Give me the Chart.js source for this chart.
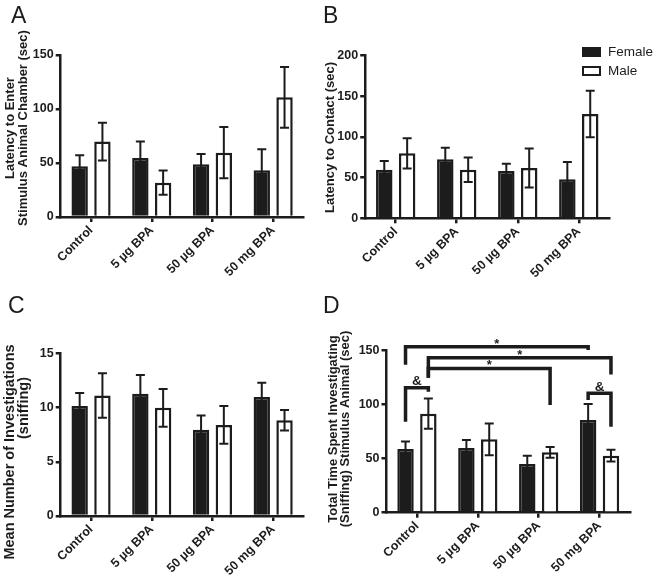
<!DOCTYPE html>
<html>
<head>
<meta charset="utf-8">
<script src="https://cdn.jsdelivr.net/npm/chart.js@4.4.1/dist/chart.umd.min.js"></script>
<style>
  body { margin: 0; background: #fff; }
  #wrap { position: relative; width: 654px; height: 580px; overflow: hidden; }
  #wrap canvas { position: absolute; }
</style>
</head>
<body>
<div id="wrap">
  <canvas id="panelA" width="320" height="290" style="left:0;top:0"></canvas>
  <canvas id="panelB" width="336" height="290" style="left:318px;top:0"></canvas>
  <canvas id="panelC" width="320" height="290" style="left:0;top:290px"></canvas>
  <canvas id="panelD" width="336" height="290" style="left:318px;top:290px"></canvas>
</div>
<script>
const groups = ['Control', '5 µg BPA', '50 µg BPA', '50 mg BPA'];

// A: latency to enter stimulus chamber (sec)
const femaleA = [47, 54.6, 48.8, 43.2];
const femaleErrA = [10.2, 15.2, 9.5, 19.5];
const maleA = [69.8, 31.8, 59.6, 110.8];
const maleErrA = [17.5, 11.2, 23.8, 28.2];

// B: latency to contact (sec)
const femaleB = [59.8, 72.5, 58.2, 48];
const femaleErrB = [10.7, 14.4, 9, 21.3];
const maleB = [79.9, 59.8, 61.9, 128.3];
const maleErrB = [18.7, 15, 24, 28.7];

// C: number of investigations
const femaleC = [10.15, 11.27, 7.96, 10.96];
const femaleErrC = [1.18, 1.73, 1.3, 1.32];
const maleC = [11.1, 9.97, 8.4, 8.83];
const maleErrC = [2.05, 1.75, 1.75, 0.95];

// D: total time investigating (sec)
const femaleD = [58.9, 59.9, 45, 85.8];
const femaleErrD = [7.1, 7.4, 7.8, 14.8];
const maleD = [91.7, 67.9, 55.9, 52.8];
const maleErrD = [14, 14.8, 5, 5.4];

// significance brackets on D: ends are [group, series], heights in sec
const bracketsD = [
  { a: [0, 0], b: [3, 0], y: 153.7, ya: 137, yb: 150.6, mark: '*' },
  { a: [0, 1], b: [3, 1], y: 143.5, ya: 125, yb: 128, mark: '*' },
  { a: [0, 1], b: [2, 1], y: 133.6, ya: 125, yb: 99.7, mark: '*' },
  { a: [0, 0], b: [0, 1], y: 115.7, ya: 84.3, yb: 112, mark: '&' },
  { a: [3, 0], b: [3, 1], y: 110.5, ya: 104.3, yb: 79.6, mark: '&' }
];

const ink = '#1c1c1c';
const family = "'Liberation Sans', Arial, sans-serif";
Chart.defaults.font.family = family;
Chart.defaults.color = ink;

function errorBars(errs) {
  return {
    id: 'errorBars',
    afterDatasetsDraw(chart) {
      const { ctx } = chart;
      const y = chart.scales.y;
      ctx.save();
      ctx.strokeStyle = ink;
      ctx.lineWidth = 2;
      chart.data.datasets.forEach((ds, d) => {
        chart.getDatasetMeta(d).data.forEach((bar, i) => {
          const top = y.getPixelForValue(ds.data[i] + errs[d][i]);
          const bot = y.getPixelForValue(ds.data[i] - errs[d][i]);
          ctx.beginPath();
          ctx.moveTo(bar.x, top); ctx.lineTo(bar.x, bot);
          ctx.moveTo(bar.x - 4.5, top); ctx.lineTo(bar.x + 4.5, top);
          ctx.moveTo(bar.x - 4.5, bot); ctx.lineTo(bar.x + 4.5, bot);
          ctx.stroke();
        });
      });
      ctx.restore();
    }
  };
}

// panel letter and rotated axis title lines
function panelText(items) {
  return {
    id: 'panelText',
    afterDraw(chart) {
      const { ctx } = chart;
      items.forEach(t => {
        ctx.save();
        ctx.translate(t.x, t.y);
        ctx.font = t.font;
        ctx.fillStyle = ink;
        if (t.rot) {
          ctx.rotate(-Math.PI / 2);
          ctx.textAlign = 'center';
          ctx.textBaseline = 'middle';
        } else {
          ctx.textAlign = 'left';
          ctx.textBaseline = 'alphabetic';
        }
        ctx.fillText(t.text, 0, 0);
        ctx.restore();
      });
    }
  };
}

const sexLegend = {
  id: 'sexLegend',
  afterDraw(chart) {
    const { ctx } = chart;
    ctx.save();
    chart.data.datasets.forEach((ds, d) => {
      const top = 47 + d * 19;
      ctx.fillStyle = ds.backgroundColor;
      ctx.fillRect(264, top, 19, 10);
      ctx.strokeStyle = ds.borderColor;
      ctx.lineWidth = 2;
      ctx.strokeRect(265, top + 1, 17, 8);
      ctx.fillStyle = ink;
      ctx.font = '13.5px ' + family;
      ctx.textBaseline = 'middle';
      ctx.fillText(ds.label, 290, top + 5.5);
    });
    ctx.restore();
  }
};

const brackets = {
  id: 'brackets',
  afterDraw(chart) {
    const { ctx } = chart;
    const y = chart.scales.y;
    const px = ([g, s]) => chart.getDatasetMeta(s).data[g].x;
    ctx.save();
    ctx.strokeStyle = ink;
    ctx.fillStyle = ink;
    ctx.lineWidth = 3.5;
    ctx.lineJoin = 'miter';
    ctx.textAlign = 'center';
    bracketsD.forEach(b => {
      const x1 = px(b.a), x2 = px(b.b), yy = y.getPixelForValue(b.y);
      ctx.beginPath();
      ctx.moveTo(x1, y.getPixelForValue(b.ya));
      ctx.lineTo(x1, yy);
      ctx.lineTo(x2, yy);
      ctx.lineTo(x2, y.getPixelForValue(b.yb));
      ctx.stroke();
      if (b.mark === '*') {
        ctx.font = 'bold 13px ' + family;
        ctx.fillText('*', (x1 + x2) / 2, yy + 1);
      } else {
        ctx.font = 'bold 13.5px ' + family;
        ctx.fillText('&', (x1 + x2) / 2, yy - 2.5);
      }
    });
    ctx.restore();
  }
};

function makeScales(max, step, yW, xH) {
  const tickFont = { size: 12.5, weight: 'bold' };
  return {
    x: {
      grid: { offset: false, drawOnChartArea: false, tickLength: 5, lineWidth: 2.5, color: ink },
      border: { color: ink, width: 2.5 },
      ticks: { minRotation: 45, maxRotation: 45, autoSkip: false, padding: 1, font: tickFont, color: ink },
      afterFit: s => { s.height = xH; }
    },
    y: {
      min: 0, max: max,
      grid: { drawOnChartArea: false, tickLength: 5, lineWidth: 2.5, color: ink },
      border: { color: ink, width: 2.5 },
      ticks: { stepSize: step, padding: 2, font: tickFont, color: ink },
      afterFit: s => { s.width = yW; }
    }
  };
}

function makePanel(id, female, male, femaleErr, maleErr, box, extra) {
  return new Chart(document.getElementById(id), {
    type: 'bar',
    data: {
      labels: groups,
      datasets: [
        { label: 'Female', data: female, backgroundColor: ink, borderColor: ink, borderWidth: 2.5,
          categoryPercentage: 0.75, barPercentage: 0.72 },
        { label: 'Male', data: male, backgroundColor: '#ffffff', borderColor: ink, borderWidth: 2.5,
          categoryPercentage: 0.75, barPercentage: 0.72 }
      ]
    },
    options: {
      responsive: false,
      animation: false,
      layout: { padding: { left: 0, top: box.top, right: box.right, bottom: 0 } },
      scales: makeScales(box.max, box.step, box.yW, box.xH),
      plugins: { legend: { display: false }, tooltip: { enabled: false } }
    },
    plugins: [errorBars([femaleErr, maleErr])].concat(extra)
  });
}

const letterFont = '23px ' + family;
const titleFont = 'bold 13px ' + family;

makePanel('panelA', femaleA, maleA, femaleErrA, maleErrA,
  { top: 55, right: 16.5, yW: 60.7, xH: 73, max: 150, step: 50 },
  [panelText([
    { text: 'A', x: 11, y: 23, font: letterFont },
    { text: 'Latency to Enter', x: 10, y: 128, rot: true, font: titleFont },
    { text: 'Stimulus Animal Chamber (sec)', x: 23, y: 128, rot: true, font: titleFont }
  ])]);

makePanel('panelB', femaleB, maleB, femaleErrB, maleErrB,
  { top: 55.7, right: 44.7, yW: 47.2, xH: 71.7, max: 200, step: 50 },
  [panelText([
    { text: 'B', x: 5, y: 23, font: letterFont },
    { text: 'Latency to Contact (sec)', x: 12, y: 137.5, rot: true, font: titleFont }
  ]), sexLegend]);

makePanel('panelC', femaleC, maleC, femaleErrC, maleErrC,
  { top: 63.3, right: 16.5, yW: 60.7, xH: 64, max: 15, step: 5 },
  [panelText([
    { text: 'C', x: 8, y: 23, font: letterFont },
    { text: 'Mean Number of Investigations', x: 10, y: 162, rot: true, font: 'bold 14.5px ' + family },
    { text: '(sniffing)', x: 24, y: 118, rot: true, font: 'bold 14.5px ' + family }
  ])]);

makePanel('panelD', femaleD, maleD, femaleErrD, maleErrD,
  { top: 60.7, right: 24, yW: 68.5, xH: 67.3, max: 150, step: 50 },
  [panelText([
    { text: 'D', x: 5, y: 23, font: letterFont },
    { text: 'Total Time Spent Investigating', x: 15, y: 139, rot: true, font: titleFont },
    { text: '(Sniffing) Stimulus Animal (sec)', x: 27, y: 139, rot: true, font: titleFont }
  ]), brackets]);
</script>
</body>
</html>
